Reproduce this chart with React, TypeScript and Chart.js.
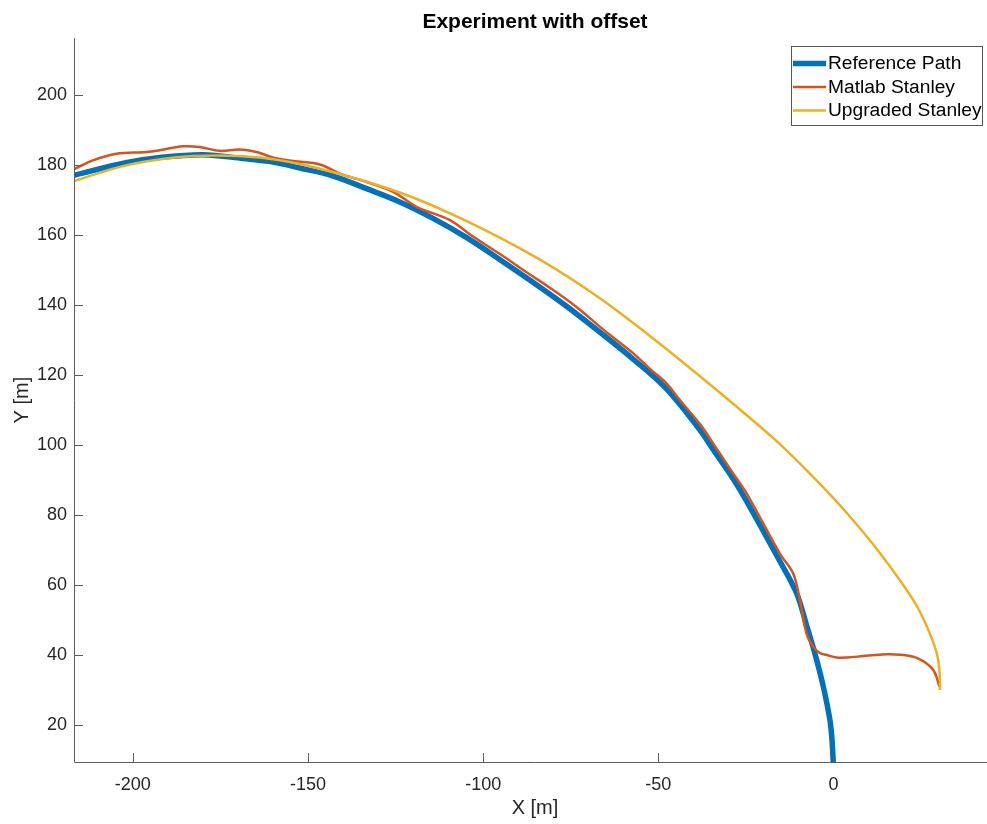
import React, { useEffect, useRef } from "react";
import { Chart, registerables } from "chart.js";

Chart.register(...registerables);

// ---------- data ----------
const chartTitle = "Experiment with offset";
const xAxisLabel = "X [m]";
const yAxisLabel = "Y [m]";
const seriesNames = ["Reference Path", "Matlab Stanley", "Upgraded Stanley"];
const seriesColors = ["#0072BD", "#D95319", "#EDB120"];

const xTicks = [-200, -150, -100, -50, 0];
const yTicks = [20, 40, 60, 80, 100, 120, 140, 160, 180, 200];

const refX = [-216.9, -202, -192.3, -180, -168.5, -160, -152.3, -142.8, -133.3, -123.8, -114.3, -104.7, -95.2, -85.7, -76.2, -66.7, -57.2, -47.6, -38.1, -34.3, -28.6, -24.8, -15.3, -10.5, -7.7, -6.2, -4.8, -2.9, -1, -0.4, 0];
const refY = [177.1, 180.7, 182.2, 183, 181.9, 180.9, 179.2, 176.9, 173.3, 169.5, 164.8, 159.3, 153.0, 146.5, 139.7, 132.3, 124.6, 116.0, 104.3, 98.7, 90.3, 84.0, 66.8, 57.6, 48.6, 43.6, 38.6, 31, 21.4, 15.5, 8];

const matX = [-216.9, -211.4, -204.7, -196.1, -192.3, -185.7, -180.9, -175.2, -169.5, -164.7, -160, -154.2, -146.6, -140.9, -133.3, -125.7, -119, -109.5, -102.9, -95.2, -87.6, -81, -73, -65.7, -57.2, -52.4, -47.6, -43.8, -38.1, -34.3, -28.6, -24.8, -15.3, -11.5, -9.6, -7.7, -5.8, -3.9, -1.9, 0.9, 3.8, 8.5, 13.3, 16.1, 22.8, 26.6, 28.5, 29.5, 30.2];
const matY = [178.8, 181.4, 183.3, 183.8, 184.3, 185.4, 185.2, 184.1, 184.5, 183.8, 182.2, 181.2, 180.2, 177.6, 175.2, 172.4, 168.1, 164.3, 159.6, 154.6, 149.4, 145.0, 139.2, 133.0, 126.3, 121.8, 117.6, 112.8, 106.0, 100.4, 91.8, 86.2, 69.0, 63.3, 55.7, 46.2, 42.4, 40.6, 40, 39.3, 39.3, 39.7, 40.1, 40.2, 39.5, 37.6, 35.7, 33.5, 31];

const upgX = [-216.9, -201.8, -182.8, -163.8, -146.6, -123.8, -104.7, -83.8, -66.7, -52.4, -38.1, -26.7, -15.3, -5.8, 3.8, 13.3, 22.8, 26.6, 29.5, 30.3, 30.4];
const upgY = [175.4, 180, 182.6, 182.2, 179, 172.2, 164, 153, 142, 131.2, 119.7, 110.2, 100.3, 90.9, 80.6, 69.1, 55.7, 48.3, 40.5, 35, 30];

const xMin = -216.8;
const xMax = 46.4;
const yMin = 9.43;
const yMax = 216.3;

// ---------- helpers ----------
const FONT = "'Liberation Sans', Arial, Helvetica, sans-serif";
const TEXT = "#262626";
const AXIS = "#5c5c5c";

const toPoints = (xs: number[], ys: number[]) => xs.map((x, i) => ({ x, y: ys[i] }));

const matlabPlugin = {
  id: "matlabAxes",
  afterDraw(chart: any) {
    const { ctx, chartArea } = chart;
    const { left, right, top, bottom } = chartArea;
    const xs = chart.scales.x;
    const ys = chart.scales.y;
    ctx.save();
    ctx.strokeStyle = AXIS;
    ctx.lineWidth = 1;
    ctx.beginPath();
    ctx.moveTo(Math.round(left) + 0.5, top);
    ctx.lineTo(Math.round(left) + 0.5, Math.round(bottom) + 0.5);
    ctx.lineTo(right, Math.round(bottom) + 0.5);
    xTicks.forEach((v) => {
      const px = Math.round(xs.getPixelForValue(v)) + 0.5;
      ctx.moveTo(px, bottom);
      ctx.lineTo(px, bottom - 9);
    });
    yTicks.forEach((v) => {
      const py = Math.round(ys.getPixelForValue(v)) + 0.5;
      ctx.moveTo(left, py);
      ctx.lineTo(left + 9, py);
    });
    ctx.stroke();

    // legend box
    const bx = 791.5, by = 46.5, bw = 191, bh = 79;
    ctx.fillStyle = "#ffffff";
    ctx.fillRect(bx, by, bw, bh);
    ctx.strokeStyle = "#555555";
    ctx.lineWidth = 1;
    ctx.strokeRect(bx, by, bw, bh);
    const rows = [63.5, 87, 110.5];
    const widths = [5.5, 2.5, 2.5];
    ctx.font = `19.2px ${FONT}`;
    ctx.textBaseline = "middle";
    ctx.textAlign = "left";
    seriesNames.forEach((name, i) => {
      ctx.strokeStyle = seriesColors[i];
      ctx.lineWidth = widths[i];
      ctx.beginPath();
      ctx.moveTo(793, rows[i]);
      ctx.lineTo(826, rows[i]);
      ctx.stroke();
      ctx.fillStyle = "#000000";
      ctx.fillText(name, 828, rows[i] + 0.5);
    });
    ctx.restore();
  },
};

export default function App() {
  const ref = useRef<HTMLCanvasElement | null>(null);

  useEffect(() => {
    if (!ref.current) return;
    const tickFont = { family: FONT, size: 18 };
    const line = (i: number, xs: number[], ys: number[], w: number, order: number) => ({
      label: seriesNames[i],
      data: toPoints(xs, ys),
      borderColor: seriesColors[i],
      backgroundColor: seriesColors[i],
      borderWidth: w,
      showLine: true,
      pointRadius: 0,
      tension: 0.35,
      order,
      borderJoinStyle: "round",
    });
    const chart = new Chart(ref.current, {
      type: "scatter",
      data: {
        datasets: [
          line(0, refX, refY, 5.5, 3),
          line(1, matX, matY, 2.5, 2),
          line(2, upgX, upgY, 2.5, 1),
        ],
      },
      options: {
        animation: false,
        responsive: false,
        devicePixelRatio: 1,
        layout: { padding: 0 },
        plugins: {
          legend: { display: false },
          tooltip: { enabled: false },
          title: {
            display: true,
            text: chartTitle,
            fullSize: false,
            color: "#000000",
            font: { family: FONT, size: 21, weight: "bold" },
            padding: { top: 10, bottom: 3 },
          },
        },
        scales: {
          x: {
            type: "linear",
            min: xMin,
            max: xMax,
            afterBuildTicks: (s: any) => {
              s.ticks = xTicks.map((v) => ({ value: v }));
            },
            afterFit: (s: any) => {
              s.height = 62;
            },
            grid: { display: false, drawTicks: false },
            border: { display: false },
            ticks: { color: TEXT, font: tickFont, padding: 12, maxRotation: 0, autoSkip: false },
            title: {
              display: true,
              text: xAxisLabel,
              color: TEXT,
              font: { family: FONT, size: 20 },
              padding: { top: 0, bottom: 4 },
            },
          },
          y: {
            type: "linear",
            min: yMin,
            max: yMax,
            afterBuildTicks: (s: any) => {
              s.ticks = yTicks.map((v) => ({ value: v }));
            },
            afterFit: (s: any) => {
              s.width = 74;
            },
            grid: { display: false, drawTicks: false },
            border: { display: false },
            ticks: { color: TEXT, font: tickFont, padding: 7, autoSkip: false },
            title: {
              display: true,
              text: yAxisLabel,
              color: TEXT,
              font: { family: FONT, size: 20 },
              padding: { top: 10, bottom: 0 },
            },
          },
        },
      },
      plugins: [matlabPlugin],
    } as any);
    return () => chart.destroy();
  }, []);

  return (
    <div
      style={{
        position: "absolute",
        left: 0,
        top: 0,
        width: 987,
        height: 824,
        overflow: "hidden",
        background: "#ffffff",
      }}
    >
      <canvas ref={ref} width={996} height={824} style={{ display: "block", width: 996, height: 824 }} />
    </div>
  );
}
